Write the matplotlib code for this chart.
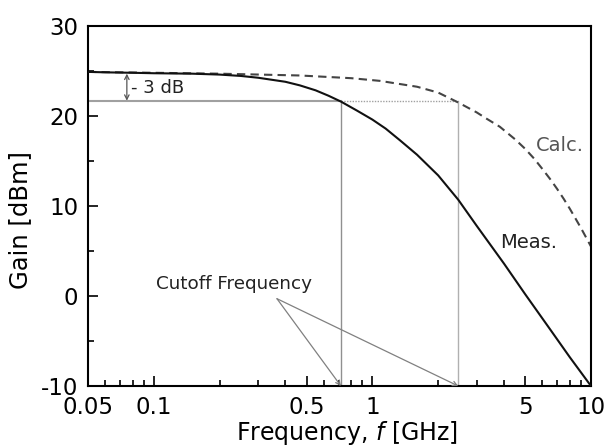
import matplotlib
matplotlib.use("Agg")
import matplotlib.pyplot as plt
from matplotlib.ticker import FixedLocator, NullFormatter

plt.rcParams['font.family'] = ['DejaVu Sans']
plt.rcParams['mathtext.fontset'] = 'dejavusans'
plt.rcParams['axes.unicode_minus'] = False

# Measured gain (solid)
meas_f = [0.05, 0.06, 0.08, 0.1, 0.15, 0.2, 0.25, 0.3, 0.4, 0.466, 0.55, 0.63,
          0.718, 0.85, 1.0, 1.15, 1.337, 1.6, 2.0, 2.47, 3.0, 4.0, 5.0, 6.5, 8.0, 10.0]
meas_g = [24.9, 24.85, 24.8, 24.75, 24.7, 24.6, 24.45, 24.25, 23.8, 23.4, 22.85, 22.25,
          21.6, 20.6, 19.6, 18.6, 17.3, 15.7, 13.4, 10.7, 7.8, 3.6, 0.2, -3.7, -6.8, -10.0]

# Calculated gain (dashed)
calc_f = [0.05, 0.1, 0.2, 0.466, 0.8, 1.084, 1.337, 1.6, 2.0, 2.47, 3.0, 3.33, 3.83,
          4.5, 5.0, 5.5, 6.0, 6.5, 7.0, 7.5, 8.0, 8.5, 9.0, 9.5, 10.0]
calc_g = [24.9, 24.8, 24.7, 24.5, 24.2, 23.9, 23.55, 23.25, 22.6, 21.5, 20.4, 19.7, 18.8,
          17.4, 16.35, 15.25, 14.1, 13.0, 11.9, 10.8, 9.7, 8.6, 7.55, 6.5, 5.5]

# Annotation values
level_db = 24.7
minus3_db = 21.7
cutoff_meas = 0.718
cutoff_calc = 2.47

xticks = [0.05, 0.1, 0.5, 1, 5, 10]
xticklabels = ['0.05', '0.1', '0.5', '1', '5', '10']
xminor = [0.06, 0.07, 0.08, 0.09, 0.2, 0.3, 0.4, 0.6, 0.7, 0.8, 0.9,
          2, 3, 4, 6, 7, 8, 9]
yticks = [-10, 0, 10, 20, 30]
yminor = [-5, 5, 15, 25]

fig = plt.figure(figsize=(6.08, 4.48), dpi=100)
ax = fig.add_axes([0.1447, 0.1384, 0.9720 - 0.1447, 0.942 - 0.1384])

ax.set_xscale('log')
ax.set_xlim(0.05, 10)
ax.set_ylim(-10, 30)

# reference lines
ax.plot([0.05, cutoff_meas], [minus3_db, minus3_db], color='#a0a0a0', lw=1.5, zorder=1)
ax.plot([cutoff_meas, cutoff_calc], [minus3_db, minus3_db], color='#a0a0a0', lw=1.0,
        ls=(0, (1, 1)), zorder=1)
ax.plot([cutoff_meas, cutoff_meas], [-10, minus3_db], color='#909090', lw=1.0, zorder=1)
ax.plot([cutoff_calc, cutoff_calc], [-10, minus3_db], color='#b0b0b0', lw=1.0, zorder=1)

ax.plot(calc_f, calc_g, color='#444444', lw=1.5, ls=(0, (4, 2.5)), zorder=2)
ax.plot(meas_f, meas_g, color='#111111', lw=1.5, zorder=3)

# -3 dB arrow
ax.annotate('', xy=(0.0753, minus3_db), xytext=(0.0753, level_db),
            arrowprops=dict(arrowstyle='<->', color='#555555', lw=0.9,
                            shrinkA=0, shrinkB=0, mutation_scale=8))
ax.text(0.0785, 23.1, '- 3 dB', fontsize=13, color='#222222', va='center', ha='left')

# cutoff frequency arrows
for fc in (cutoff_meas, cutoff_calc):
    ax.annotate('', xy=(fc, -10), xytext=(0.366, -0.3),
                arrowprops=dict(arrowstyle='->', color='#808080', lw=0.9,
                                shrinkA=0, shrinkB=0, mutation_scale=8))
ax.text(0.102, 1.3, 'Cutoff Frequency', fontsize=13.2, color='#222222',
        va='center', ha='left')

ax.text(5.6, 16.7, 'Calc.', fontsize=14, color='#555555', va='center', ha='left')
ax.text(3.83, 5.9, 'Meas.', fontsize=14, color='#222222', va='center', ha='left')

# ticks
ax.xaxis.set_major_locator(FixedLocator(xticks))
ax.set_xticklabels(xticklabels)
ax.xaxis.set_minor_locator(FixedLocator(xminor))
ax.xaxis.set_minor_formatter(NullFormatter())
ax.set_yticks(yticks)
ax.yaxis.set_minor_locator(FixedLocator(yminor))

ax.tick_params(axis='both', which='major', direction='in', length=7, width=1.2,
               labelsize=16.5, colors='black')
ax.tick_params(axis='both', which='minor', direction='in', length=4, width=1.2)
ax.tick_params(axis='x', which='major', pad=7)
ax.tick_params(axis='y', which='major', pad=7)
ax.tick_params(top=False, right=False, which='both')

for s in ax.spines.values():
    s.set_linewidth(1.5)

ax.set_xlabel('Frequency, $\\it{f}$ [GHz]', fontsize=17, va='baseline')
ax.xaxis.set_label_coords(0.515, -0.15)
ax.set_ylabel('Gain [dBm]', fontsize=17.5, va='center')
ax.yaxis.set_label_coords(-0.135, 0.46)

fig.savefig('out.png', dpi=100)
